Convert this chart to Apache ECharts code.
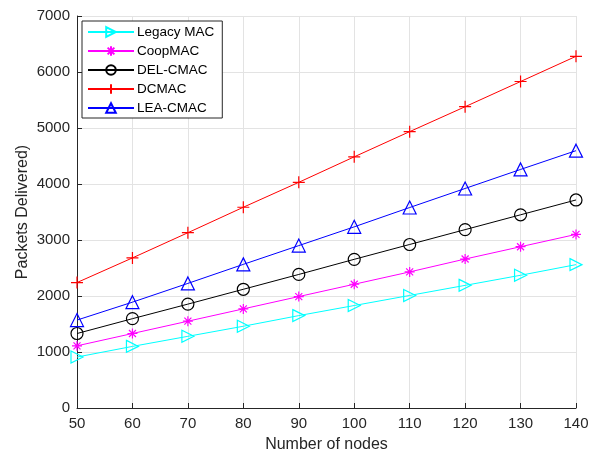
<!DOCTYPE html>
<html>
<head>
<meta charset="utf-8">
<script src="https://cdn.jsdelivr.net/npm/echarts@6/dist/echarts.min.js"></script>
<style>html,body{margin:0;padding:0;background:#fff}#c{width:596px;height:456px}</style>
</head>
<body>
<div id="c"></div>
<script>
var nodes = [50, 60, 70, 80, 90, 100, 110, 120, 130, 140];
var legacyMAC = [910, 1100, 1280, 1460, 1650, 1830, 2010, 2190, 2370, 2560];
var coopMAC = [1110, 1330, 1550, 1770, 1990, 2210, 2430, 2660, 2880, 3100];
var delCMAC = [1330, 1595, 1855, 2120, 2385, 2655, 2920, 3185, 3450, 3715];
var dcMAC = [2240, 2680, 3130, 3585, 4030, 4485, 4935, 5380, 5830, 6280];
var leaCMAC = [1570, 1890, 2225, 2565, 2900, 3235, 3580, 3920, 4260, 4595];
var yTicks = [0, 1000, 2000, 3000, 4000, 5000, 6000, 7000];

function pairs(arr) { return nodes.map(function (x, i) { return [x, arr[i]]; }); }

var triRight = 'path://M0,0L10,5L0,10Z';
var plus = 'path://M0,5L10,5M5,0L5,10';
var star = 'path://M0,5L10,5M5,0L5,10M1.5,1.5L8.5,8.5M1.5,8.5L8.5,1.5';

function ser(name, data, color, symbol, size) {
  return {
    name: name, type: 'line', data: pairs(data),
    symbol: symbol, symbolSize: size, showAllSymbol: true,
    lineStyle: { color: color, width: 1 },
    itemStyle: { color: 'rgba(0,0,0,0)', borderColor: color, borderWidth: 1.2 },
    emphasis: { disabled: true },
    animation: false
  };
}

var chart = echarts.init(document.getElementById('c'), null, { renderer: 'canvas' });
chart.setOption({
  animation: false,
  backgroundColor: '#fff',
  textStyle: { fontFamily: 'Liberation Sans, Arial, sans-serif' },
  grid: { left: 77, right: 20, top: 16, bottom: 48, containLabel: false, outerBoundsMode: 'none' },
  legend: {
    left: 82, top: 21, orient: 'vertical',
    itemWidth: 46, itemHeight: 12, itemGap: 5,
    padding: [4, 8, 3, 5],
    backgroundColor: '#fff', borderColor: '#262626', borderWidth: 1,
    textStyle: { fontSize: 13.5, color: '#000', fontFamily: 'Liberation Sans, Arial, sans-serif', padding: [0, 0, 0, -2] },
    data: ['Legacy MAC', 'CoopMAC', 'DEL-CMAC', 'DCMAC', 'LEA-CMAC']
  },
  xAxis: {
    type: 'value', min: 50, max: 140, interval: 10,
    name: 'Number of nodes', nameLocation: 'middle', nameGap: 29, nameMoveOverlap: false,
    nameTextStyle: { fontSize: 16, color: '#262626' },
    axisLine: { show: true, lineStyle: { color: '#262626', width: 1 } },
    axisTick: { show: true, inside: true, length: 5, lineStyle: { color: '#262626' } },
    axisLabel: { fontSize: 15, color: '#262626', margin: 8 },
    splitLine: { show: true, lineStyle: { color: '#e3e3e3', width: 1 } }
  },
  yAxis: {
    type: 'value', min: 0, max: 7000, interval: 1000,
    name: 'Packets Delivered)', nameLocation: 'middle', nameGap: 46, nameMoveOverlap: false,
    nameTextStyle: { fontSize: 16, color: '#262626' },
    axisLine: { show: true, lineStyle: { color: '#262626', width: 1 } },
    axisTick: { show: true, inside: true, length: 5, lineStyle: { color: '#262626' } },
    axisLabel: { fontSize: 15, color: '#262626', margin: 7,
      formatter: function (v) { return yTicks.indexOf(v) >= 0 ? String(v) : ''; } },
    splitLine: { show: true, lineStyle: { color: '#e3e3e3', width: 1 } }
  },
  series: [
    ser('Legacy MAC', legacyMAC, '#00ffff', triRight, 12),
    ser('CoopMAC', coopMAC, '#ff00ff', star, 10),
    ser('DEL-CMAC', delCMAC, '#000000', 'circle', 12),
    ser('DCMAC', dcMAC, '#ff0000', plus, 12),
    ser('LEA-CMAC', leaCMAC, '#0000ff', 'triangle', 13)
  ]
});
</script>
</body>
</html>
